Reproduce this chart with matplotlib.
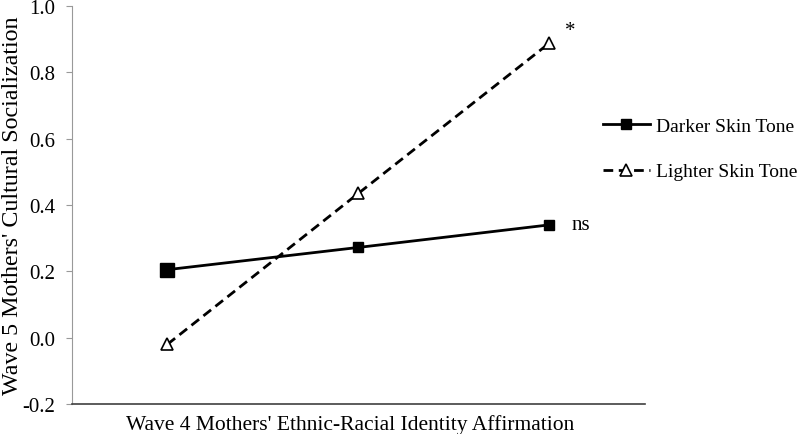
import matplotlib
matplotlib.use('Agg')
from matplotlib import pyplot as plt

# data
levels = ['low', 'mean', 'high']
darker = [0.205, 0.272, 0.340]
lighter = [-0.020, 0.435, 0.888]
yticks = [-0.2, 0.0, 0.2, 0.4, 0.6, 0.8, 1.0]

plt.rcParams['font.family'] = ['Liberation Serif', 'DejaVu Serif']

fig = plt.figure(figsize=(8, 4.35), dpi=100)
ax = fig.add_axes([0.09, 0.069, 0.716, 0.915])

xs = [i + 0.5 for i in range(len(levels))]

ax.plot(xs, darker, color='black', lw=2, marker='s', ms=7,
        label='Darker Skin Tone')
# first marker drawn a bit bigger in the original
ax.plot(xs[:1], darker[:1], color='black', marker='s', ms=10, ls='none')
ax.plot(xs, lighter, color='black', lw=2, ls=(0, (3.5, 2)), marker='^', ms=9,
        mfc='white', mec='black', mew=1.2, label='Lighter Skin Tone')

ax.annotate('ns', (xs[-1], darker[-1]), xytext=(16, 0), textcoords='offset points',
            fontsize=15, va='center')
ax.annotate('*', (xs[-1], lighter[-1]), xytext=(11, 2), textcoords='offset points',
            fontsize=15, va='bottom')

ax.set_xlim(0, 3)
ax.set_ylim(-0.2, 1.0)
ax.set_yticks(yticks)
ax.set_yticklabels(['%.1f' % t for t in yticks], fontsize=15)
ax.set_xticks([])
ax.set_xlabel("Wave 4 Mothers' Ethnic-Racial Identity Affirmation", fontsize=15.5)
ax.xaxis.set_label_coords(0.486, -0.025, transform=ax.transAxes)
ax.xaxis.label.set_va('top')
ax.set_ylabel("Wave 5 Mothers' Cultural Socialization", fontsize=17.3)
ax.yaxis.set_label_coords(-0.104, 0.5, transform=ax.transAxes)
ax.yaxis.label.set_va('center')

for s in ['top', 'right']:
    ax.spines[s].set_visible(False)
ax.spines['left'].set_color('#999999')
ax.spines['bottom'].set_color('#404040')
ax.spines['bottom'].set_linewidth(1.2)
ax.tick_params(axis='y', color='#999999', length=4, direction='out', pad=8)

ax.legend(loc='center left', bbox_to_anchor=(603 / 800, 0.656), bbox_transform=fig.transFigure,
          frameon=False, fontsize=14, handlelength=2.4, handletextpad=0.35,
          labelspacing=1.45, borderpad=0, borderaxespad=0)

fig.savefig('out.png', dpi=100)
